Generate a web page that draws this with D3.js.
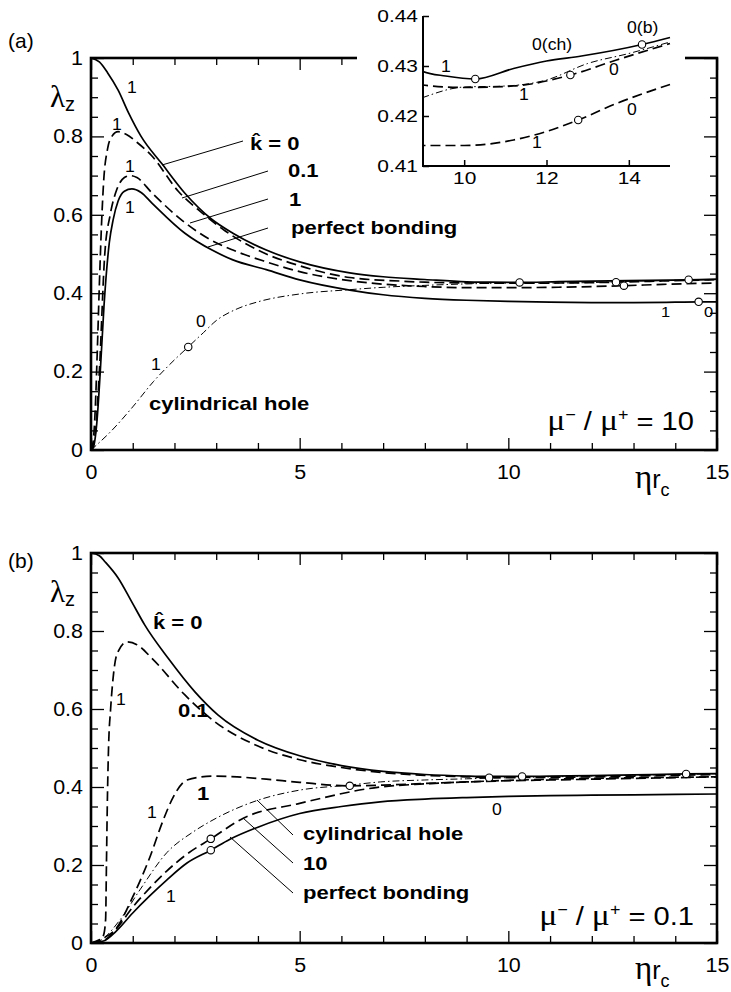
<!DOCTYPE html>
<html><head><meta charset="utf-8">
<script src="https://cdn.jsdelivr.net/npm/d3@7/dist/d3.min.js"></script>
<style>html,body{margin:0;padding:0;background:#fff}svg{display:block}</style>
</head><body>
<svg id="chart" width="731" height="992"></svg>
<script>
// ================= DATA =================
const xTickMajor = [0, 5, 10, 15];
const xTickMinor = [1, 2, 3, 4, 6, 7, 8, 9, 11, 12, 13, 14];
const yTickMajor = [0, 0.2, 0.4, 0.6, 0.8, 1];
const yTickLabels = ["0", "0.2", "0.4", "0.6", "0.8", "1"];
const yTickMinor = [0.05,0.1,0.15,0.25,0.3,0.35,0.45,0.5,0.55,0.65,0.7,0.75,0.85,0.9,0.95];
const insetXTicks = [10, 12, 14];
const insetYTicks = [0.41, 0.42, 0.43, 0.44];
const insetYLabels = ["0.41", "0.42", "0.43", "0.44"];

// ---- panel (a): mu-/mu+ = 10 ----
const aK0x = [0,0.2,0.4,0.65,0.9,1.2,1.7,2.25,2.9,3.4,4.2,5,6.2,7,8,9,9.55,10.27,11.2,12,12.85,14.32,15];
const aK0y = [1,0.99,0.962,0.918,0.86,0.80,0.73,0.655,0.588,0.553,0.51,0.48,0.452,0.442,0.435,0.4289,0.428,0.4274,0.4295,0.431,0.432,0.4343,0.4357];

const aK01x = [0,0.05,0.1,0.15,0.2,0.25,0.3,0.4,0.5,0.65,0.85,1.1,1.46,2.09,2.66,3.2,4.2,5,6.2,7.4,8,9,10,11.2,12.58,13.7,15];
const aK01y = [0,0.02,0.1,0.25,0.42,0.57,0.68,0.77,0.80,0.812,0.805,0.785,0.75,0.66,0.605,0.56,0.50,0.47,0.44,0.431,0.428,0.4262,0.4257,0.426,0.4282,0.4312,0.4345];

const aK1x = [0,0.1,0.2,0.33,0.46,0.62,0.8,0.94,1.1,1.46,2.25,2.8,3.4,4.2,5,6.2,7.4,8,9,10,11.2,12,12.77,13.7,15];
const aK1y = [0,0.04,0.2,0.5,0.6,0.665,0.695,0.70,0.695,0.656,0.58,0.54,0.51,0.48,0.455,0.432,0.42,0.417,0.4141,0.4141,0.4152,0.4169,0.4192,0.4225,0.4263];

const aPbx = [0,0.05,0.14,0.22,0.31,0.44,0.53,0.65,0.8,0.98,1.2,1.46,2.25,2.9,3.4,4.2,5,6.2,7,8,9,10,11,12,13,14,14.56,15];
const aPby = [0,0.005,0.07,0.196,0.365,0.53,0.587,0.635,0.66,0.666,0.657,0.63,0.553,0.51,0.485,0.46,0.434,0.408,0.396,0.387,0.382,0.379,0.377,0.376,0.376,0.377,0.378,0.378];

const aCylx = [0,0.5,1.0,1.5,2.0,2.33,2.7,3.0,3.5,4.0,5,6.2,7,8,9,10,11,12,13,14,15];
const aCyly = [0,0.05,0.11,0.175,0.23,0.263,0.3,0.33,0.36,0.378,0.398,0.409,0.415,0.42,0.4237,0.4258,0.426,0.4272,0.4305,0.4325,0.4348];

const aMarkX = [2.33, 10.27, 14.32, 12.58, 12.77, 14.56];
const aMarkY = [0.263, 0.4274, 0.4343, 0.4282, 0.4192, 0.378];

// ---- panel (b): mu-/mu+ = 0.1 ----
const bK0x = [0,0.2,0.34,0.65,0.98,1.29,1.85,2.49,3.04,4,5,6,7,8,9,9.54,10.33,11,12,13,14.26,15];
const bK0y = [1,0.993,0.977,0.936,0.874,0.815,0.73,0.644,0.585,0.52,0.48,0.455,0.44,0.432,0.428,0.427,0.427,0.428,0.429,0.431,0.4335,0.4345];

const bK01x = [0,0.2,0.3,0.35,0.37,0.39,0.42,0.47,0.53,0.62,0.86,1.1,1.46,2.25,2.97,4,5,6,7,8,9,9.54,10.5,12,13,14,15];
const bK01y = [0,0.005,0.02,0.06,0.2,0.35,0.5,0.6,0.68,0.74,0.772,0.765,0.73,0.636,0.567,0.505,0.47,0.45,0.437,0.43,0.426,0.424,0.4245,0.426,0.428,0.43,0.432];

const bK1x = [0,0.2,0.62,1.0,1.41,1.73,1.97,2.3,2.93,3.5,4.2,5,6.2,7,8,9,10,11,12,13,14,15];
const bK1y = [0,0.008,0.04,0.118,0.22,0.315,0.374,0.418,0.428,0.426,0.42,0.412,0.403,0.405,0.409,0.413,0.416,0.418,0.42,0.422,0.424,0.426];

const bCylx = [0,0.2,0.7,1.17,1.82,2.45,3.0,3.97,5,6.2,6.93,8,9,10,11,12,13,14,15];
const bCyly = [0,0.005,0.06,0.136,0.232,0.285,0.32,0.365,0.392,0.405,0.413,0.418,0.421,0.424,0.426,0.428,0.43,0.432,0.434];

const bTenx = [0,0.3,0.6,1.0,1.4,1.82,2.3,2.87,3.65,5,6.93,8,9,10,11,12,13,14,15];
const bTeny = [0,0.006,0.035,0.092,0.14,0.185,0.228,0.267,0.32,0.358,0.40,0.408,0.413,0.417,0.42,0.422,0.424,0.425,0.426];

const bPbx = [0,0.3,0.6,1.0,1.4,1.82,2.3,2.87,3.33,4,5,6,6.93,8,9,10,11,12,13,14,15];
const bPby = [0,0.005,0.03,0.077,0.12,0.162,0.205,0.238,0.266,0.297,0.332,0.35,0.362,0.369,0.373,0.376,0.378,0.379,0.38,0.381,0.382];

const bMarkX = [2.87, 2.87, 6.2, 9.54, 10.33, 14.26];
const bMarkY = [0.267, 0.238, 0.403, 0.424, 0.427, 0.4335];

// ================= DRAWING =================
const SANS = "'Liberation Sans', Arial, Helvetica, sans-serif";
const SERIF = "'Liberation Serif', 'Times New Roman', serif";
const svg = d3.select("#chart");
svg.append("rect").attr("width", 731).attr("height", 992).attr("fill", "#fff");

const STY = {
  solid:   { w: 1.7, dash: null },
  dash:    { w: 1.7, dash: "10,5" },
  dashdot: { w: 1.0, dash: "7,3,1.5,3" }
};

function txt(g, x, y, s, size, o = {}) {
  return g.append("text")
    .attr("transform", `translate(${x},${y}) scale(${o.sx ?? 1.1},1)`)
    .attr("text-anchor", o.anchor || "start")
    .attr("font-family", o.family || SANS)
    .attr("font-size", size)
    .attr("font-weight", o.weight || "normal")
    .attr("fill", "#000")
    .text(s);
}

function stretchTicks(axisG, size, sx) {
  axisG.attr("font-size", size).attr("font-family", SANS);
  axisG.selectAll(".tick text").each(function () {
    const t = d3.select(this);
    const x = +(t.attr("x") || 0), y = +(t.attr("y") || 0);
    t.attr("x", null).attr("y", null)
     .attr("transform", `translate(${x},${y}) scale(${sx},1)`)
     .attr("fill", "#000");
  });
}

function drawLine(g, x, y, xs, ys, sty, clip) {
  const line = d3.line()
    .x((d, i) => x(xs[i]))
    .y((d, i) => y(ys[i]))
    .curve(d3.curveMonotoneX);
  const p = g.append("path").attr("d", line(xs))
    .attr("fill", "none").attr("stroke", "#000")
    .attr("stroke-width", sty.w).attr("stroke-linejoin", "round");
  if (sty.dash) p.attr("stroke-dasharray", sty.dash);
  if (clip) p.attr("clip-path", `url(#${clip})`);
  return p;
}

function drawMarkers(g, x, y, mx, my, filt) {
  const pts = d3.zip(mx, my).filter(filt || (() => true));
  g.selectAll(null).data(pts).join("circle")
    .attr("cx", d => x(d[0])).attr("cy", d => y(d[1])).attr("r", 3.7)
    .attr("fill", "#fff").attr("stroke", "#000").attr("stroke-width", 1.1);
}

function leader(g, x1, y1, x2, y2) {
  g.append("line").attr("x1", x1).attr("y1", y1).attr("x2", x2).attr("y2", y2)
    .attr("stroke", "#000").attr("stroke-width", 1);
}

function axesFrame(g, x, y, yBottom, yTop) {
  const ax = (gen, tr, vals, size, pad, fmt) => {
    const a = g.append("g").attr("transform", tr)
      .call(gen.tickValues(vals).tickSize(size).tickPadding(pad).tickFormat(fmt));
    a.select(".domain").remove();
    a.selectAll(".tick line").attr("stroke", "#000").attr("stroke-width", 1.3);
    return a;
  };
  const none = () => "";
  const bx = ax(d3.axisBottom(x), `translate(0,${yBottom})`, xTickMajor, -12, 15, d3.format("d"));
  stretchTicks(bx, 19.5, 1.1);
  ax(d3.axisBottom(x), `translate(0,${yBottom})`, xTickMinor, -7, 0, none);
  ax(d3.axisTop(x), `translate(0,${yTop})`, xTickMajor, -12, 0, none);
  ax(d3.axisTop(x), `translate(0,${yTop})`, xTickMinor, -7, 0, none);
  const ly = ax(d3.axisLeft(y), `translate(${x(0)},0)`, yTickMajor, -13, 8,
                d => yTickLabels[yTickMajor.indexOf(d)]);
  stretchTicks(ly, 19.5, 1.1);
  ax(d3.axisLeft(y), `translate(${x(0)},0)`, yTickMinor, -7, 0, none);
  ax(d3.axisRight(y), `translate(${x(15)},0)`, yTickMajor, -13, 0, none);
  ax(d3.axisRight(y), `translate(${x(15)},0)`, yTickMinor, -7, 0, none);
  g.append("rect").attr("x", x(0)).attr("y", yTop)
    .attr("width", x(15) - x(0)).attr("height", yBottom - yTop)
    .attr("fill", "none").attr("stroke", "#000").attr("stroke-width", 2.6);
}

function axisTitles(g, lamBase, etaBase, muBase, muVal, panelBase, panelLbl) {
  txt(g, 8, panelBase, panelLbl, 20, { sx: 1.05 });
  const l = g.append("text").attr("transform", `translate(50,${lamBase})`)
    .attr("font-family", SANS).attr("font-size", 20).attr("fill", "#000");
  l.append("tspan").attr("font-family", SERIF).attr("font-size", 31).text("λ");
  l.append("tspan").attr("dy", 4).text("z");
  const e = g.append("text").attr("transform", `translate(635,${etaBase})`)
    .attr("font-family", SANS).attr("font-size", 25).attr("fill", "#000");
  e.append("tspan").attr("font-family", SERIF).attr("font-size", 33).text("η");
  e.append("tspan").text("r");
  e.append("tspan").attr("font-size", 18).attr("dy", 8).text("c");
  const m = g.append("text").attr("transform", `translate(694,${muBase}) scale(1.12,1)`)
    .attr("text-anchor", "end").attr("font-family", SANS).attr("font-size", 26).attr("fill", "#000");
  m.append("tspan").attr("font-family", SERIF).attr("font-size", 30).text("μ");
  m.append("tspan").attr("font-size", 16).attr("dy", -10).text("−");
  m.append("tspan").attr("dy", 10).text(" / ");
  m.append("tspan").attr("font-family", SERIF).attr("font-size", 30).text("μ");
  m.append("tspan").attr("font-size", 16).attr("dy", -10).text("+");
  m.append("tspan").attr("dy", 10).text(" = " + muVal);
}

// k with hat (combining circumflex) as one text string
function kHat(g, x, base, rest) {
  txt(g, x, base, "k\u0302" + rest, 18.5, { weight: "bold", sx: 1.19 });
}

// ================= PANEL (a) =================
{
  const g = svg.append("g");
  const x = d3.scaleLinear().domain([0, 15]).range([91, 717]);
  const y = d3.scaleLinear().domain([0, 1]).range([450, 58]);

  drawLine(g, x, y, aCylx, aCyly, STY.dashdot);
  drawLine(g, x, y, aPbx, aPby, STY.solid);
  drawLine(g, x, y, aK1x, aK1y, STY.dash);
  drawLine(g, x, y, aK01x, aK01y, STY.dash);
  drawLine(g, x, y, aK0x, aK0y, STY.solid);
  drawMarkers(g, x, y, aMarkX, aMarkY);

  axesFrame(g, x, y, 450, 58);
  axisTitles(g, 107, 488, 430, "10", 48, "(a)");

  txt(g, 127, 93, "1", 16);
  txt(g, 112, 130, "1", 16);
  txt(g, 125, 172, "1", 16);
  txt(g, 125, 213, "1", 16);
  txt(g, 151, 370, "1", 16);
  txt(g, 196, 327, "0", 16);
  txt(g, 661, 317, "1", 15);
  txt(g, 704, 317, "0", 15);

  kHat(g, 250, 150, " = 0");
  txt(g, 288, 177, "0.1", 18.5, { weight: "bold", sx: 1.19 });
  txt(g, 289, 206, "1", 18.5, { weight: "bold", sx: 1.19 });
  txt(g, 291, 234, "perfect bonding", 18.5, { weight: "bold", sx: 1.19 });
  txt(g, 149, 410, "cylindrical hole", 18.5, { weight: "bold", sx: 1.19 });
  leader(g, 162, 165, 243, 141);
  leader(g, 182, 198, 268, 171);
  leader(g, 190, 223, 268, 199);
  leader(g, 208, 247, 268, 228);

  // ---------- inset ----------
  g.append("rect").attr("x", 357).attr("y", 0).attr("width", 328).attr("height", 200).attr("fill", "#fff");
  const xi = d3.scaleLinear().domain([9, 15]).range([423, 670]);
  const yi = d3.scaleLinear().domain([0.41, 0.44]).range([166, 16]);
  svg.append("defs").append("clipPath").attr("id", "insetClip")
    .append("rect").attr("x", 423).attr("y", 8).attr("width", 250).attr("height", 158);
  const gi = g.append("g");
  drawLine(gi, xi, yi, aCylx, aCyly, STY.dashdot, "insetClip");
  drawLine(gi, xi, yi, aK1x, aK1y, STY.dash, "insetClip");
  drawLine(gi, xi, yi, aK01x, aK01y, STY.dash, "insetClip");
  drawLine(gi, xi, yi, aK0x, aK0y, STY.solid, "insetClip");
  drawMarkers(gi, xi, yi, aMarkX, aMarkY, d => d[0] >= 9 && d[1] >= 0.41);

  const il = gi.append("g").attr("transform", "translate(423,0)")
    .call(d3.axisLeft(yi).tickValues(insetYTicks).tickSize(-6).tickPadding(5)
      .tickFormat(d => insetYLabels[insetYTicks.indexOf(d)]));
  il.select(".domain").remove();
  il.selectAll(".tick line").attr("stroke", "#000").attr("stroke-width", 1.5);
  stretchTicks(il, 16.5, 1.27);
  const ib = gi.append("g").attr("transform", "translate(0,166)")
    .call(d3.axisBottom(xi).tickValues(insetXTicks).tickSize(-6).tickPadding(6).tickFormat(d3.format("d")));
  ib.select(".domain").remove();
  ib.selectAll(".tick line").attr("stroke", "#000").attr("stroke-width", 1.5);
  stretchTicks(ib, 16.5, 1.27);
  gi.append("path").attr("d", `M${xi(9)},${yi(0.44)}V${yi(0.41)}H${xi(15)}`)
    .attr("fill", "none").attr("stroke", "#000").attr("stroke-width", 2);

  txt(gi, 441, 72, "1", 16);
  txt(gi, 532, 50, "0(ch)", 16);
  txt(gi, 627, 33, "0(b)", 16);
  txt(gi, 519, 100, "1", 16);
  txt(gi, 609, 75, "0", 16);
  txt(gi, 532, 148, "1", 16);
  txt(gi, 627, 115, "0", 16);
}

// ================= PANEL (b) =================
{
  const g = svg.append("g");
  const x = d3.scaleLinear().domain([0, 15]).range([91, 717]);
  const y = d3.scaleLinear().domain([0, 1]).range([943, 553]);

  drawLine(g, x, y, bCylx, bCyly, STY.dashdot);
  drawLine(g, x, y, bPbx, bPby, STY.solid);
  drawLine(g, x, y, bTenx, bTeny, STY.dash);
  drawLine(g, x, y, bK1x, bK1y, STY.dash);
  drawLine(g, x, y, bK01x, bK01y, STY.dash);
  drawLine(g, x, y, bK0x, bK0y, STY.solid);
  drawMarkers(g, x, y, bMarkX, bMarkY);

  axesFrame(g, x, y, 943, 553);
  axisTitles(g, 602, 979, 925, "0.1", 568, "(b)");

  txt(g, 116, 705, "1", 16);
  txt(g, 147, 818, "1", 16);
  txt(g, 166, 902, "1", 16);
  txt(g, 492, 815, "0", 16);

  kHat(g, 153, 629, " = 0");
  txt(g, 178, 717, "0.1", 18.5, { weight: "bold", sx: 1.19 });
  txt(g, 197, 800, "1", 18.5, { weight: "bold", sx: 1.19 });
  txt(g, 303, 840, "cylindrical hole", 18.5, { weight: "bold", sx: 1.19 });
  txt(g, 303, 870, "10", 18.5, { weight: "bold", sx: 1.19 });
  txt(g, 303, 899, "perfect bonding", 18.5, { weight: "bold", sx: 1.19 });
  leader(g, 257, 800, 293, 835);
  leader(g, 243, 818, 293, 863);
  leader(g, 230, 837, 293, 893);
}
</script>
</body></html>
